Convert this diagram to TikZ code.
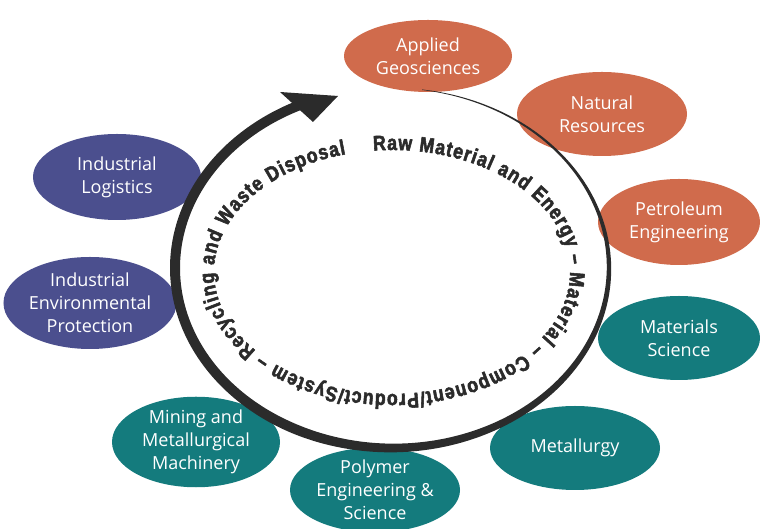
\documentclass[tikz,border=0pt]{standalone}
\usepackage{fontspec}
\setmainfont{Open Sans}
\newfontfamily\ringfont[FakeStretch=0.84,BoldFeatures={FakeBold=2.5}]{Liberation Sans}
\usetikzlibrary{shapes.geometric,decorations.text}
\definecolor{orangefill}{HTML}{D06B4C}
\definecolor{tealfill}{HTML}{147B7D}
\definecolor{bluefill}{HTML}{4B4F8E}
\definecolor{ringgray}{HTML}{2B2B2B}

\begin{document}
\begin{tikzpicture}[x=1pt,y=1pt,
    field/.style={ellipse, inner sep=0pt, text=white, align=center,
      font=\fontsize{18}{23}\selectfont},
    declare function={ringw(\t)=min(10,0.5+(82-\t)*0.0475);}]
      \useasboundingbox (0,0) rectangle (760,529);

      \node(AG)[field, fill=orangefill, minimum width=168, minimum height=72] at (428,473) {Applied\\Geosciences};
      \node(NR)[field, fill=orangefill, minimum width=170, minimum height=84] at (602,415) {Natural\\Resources};
      \node(PE)[field, fill=orangefill, minimum width=162, minimum height=86] at (679,307) {Petroleum\\Engineering};

      \node(MS)[field, fill=tealfill, minimum width=162, minimum height=84] at (679,191) {Materials\\Science};
      \node(ME)[field, fill=tealfill, minimum width=170, minimum height=84] at (575,81) {Metallurgy};
      \node(PS)[field, fill=tealfill, minimum width=170, minimum height=84] at (375,39) {Polymer\\Engineering \&\\Science};
      \node(MM)[field, fill=tealfill, minimum width=168, minimum height=76] at (196,87) {Mining and\\Metallurgical\\Machinery};

      \node(IL)[field, fill=bluefill, minimum width=168, minimum height=86] at (117,352) {Industrial\\Logistics};
      \node(IEP)[field, fill=bluefill, minimum width=170, minimum height=92] at (90,226) {Industrial\\Environmental\\Protection};

      % the cycle ring, thin at the top right, thick on the left
      \fill[ringgray] plot[smooth, domain=82:-246, samples=120, variable=\t]
          ({392+(217+ringw(\t)/2)*cos(\t)},{261+(180+ringw(\t)/2)*sin(\t)})
        -- plot[smooth, domain=-246:82, samples=120, variable=\t]
          ({392+(217-ringw(\t)/2)*cos(\t)},{261+(180-ringw(\t)/2)*sin(\t)}) -- cycle;
      \fill[ringgray] (280,437) -- (338,433) -- (313,407) -- cycle;

      \path[decorate, decoration={text along path, text align={fit to path},
          text={|\ringfont\bfseries\fontsize{21}{21}\selectfont\color{ringgray}|Raw Material and Energy – Material – Component/Product/System – Recycling and Waste Disposal}}]
        (392,257) ++(96:178 and 122) arc[start angle=96, end angle=-255, x radius=178, y radius=122];
\end{tikzpicture}
\end{document}
